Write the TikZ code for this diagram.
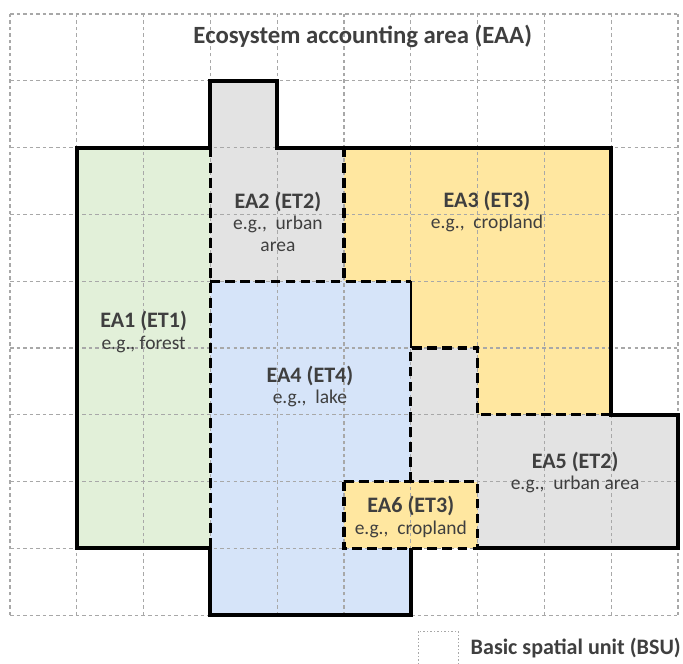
\documentclass[tikz,border=0pt]{standalone}
\usepackage{fontspec}
\setmainfont{Carlito}
\definecolor{txt}{HTML}{3F3F3F}
\definecolor{cgreen}{HTML}{E2F0D9}
\definecolor{cgray}{HTML}{E3E3E3}
\definecolor{cyellow}{HTML}{FFE7A0}
\definecolor{cblue}{HTML}{D6E4F9}
\definecolor{cgrid}{HTML}{A8A8A8}
\tikzset{
  gridline/.style={draw=cgrid, line width=0.5pt, dash pattern=on 1.5pt off 1.3pt},
  outerline/.style={draw=black, line width=1.75pt, line join=miter},
  innerline/.style={draw=black, line width=1.4pt, dash pattern=on 4.2pt off 2.2pt},
  eabox/.style={text=txt, align=center, inner sep=0pt, font=\fontsize{8.3pt}{9pt}\selectfont},
}
\newcommand{\eahead}[1]{{\fontsize{9.4pt}{9pt}\selectfont\bfseries #1}}
\begin{document}
\begin{tikzpicture}
\clip (-0.15,0.21) rectangle (10.075,-9.73);
\fill[white] (-0.15,0.21) rectangle (10.075,-9.73);
% fills
\fill[cgreen] (1,-2) rectangle (3,-8);
\fill[cgray] (3,-1) -- (4,-1) -- (4,-2) -- (5,-2) -- (5,-4) -- (3,-4) -- cycle;
\fill[cyellow] (5,-2) -- (9,-2) -- (9,-6) -- (7,-6) -- (7,-5) -- (6,-5) -- (6,-4) -- (5,-4) -- cycle;
\fill[cblue] (3,-4) -- (6,-4) -- (6,-7) -- (5,-7) -- (5,-8) -- (6,-8) -- (6,-9) -- (3,-9) -- cycle;
\fill[cgray] (6,-5) -- (7,-5) -- (7,-6) -- (10,-6) -- (10,-8) -- (7,-8) -- (7,-7) -- (6,-7) -- cycle;
\fill[cyellow] (5,-7) rectangle (7,-8);
% grid of basic spatial units
\draw[gridline] (0,0) grid (10,-9);
% internal boundaries
\draw[innerline] (3,-2) -- (3,-8);
\draw[innerline] (3,-4) -- (6,-4);
\draw[innerline] (5,-2) -- (5,-4);
\draw[innerline] (6,-7) -- (6,-5) -- (7,-5) -- (7,-6) -- (9,-6);
\draw[innerline] (5,-7) rectangle (7,-8);
\draw[black, line width=0.6pt] (6,-4) -- (6,-5);
% outer boundary
\draw[outerline] (6,-8) -- (6,-9) -- (3,-9) -- (3,-8) -- (1,-8) -- (1,-2) -- (3,-2) -- (3,-1) -- (4,-1) -- (4,-2) -- (9,-2) -- (9,-6) -- (10,-6) -- (10,-8) -- (7,-8);
% texts
\node[text=txt, font=\fontsize{10.55pt}{12pt}\selectfont\bfseries] (title) at (5.28,-0.33) {Ecosystem accounting area (EAA)};
\node[eabox] (ea1) at (2.0,-4.76) {\eahead{EA1 (ET1)}\\e.g., forest};
\node[eabox] (ea2) at (4.01,-3.11) {\eahead{EA2 (ET2)}\\e.g.,\ \ urban\\area};
\node[eabox] (ea3) at (7.14,-2.95) {\eahead{EA3 (ET3)}\\e.g.,\ \ cropland};
\node[eabox] (ea4) at (4.49,-5.58) {\eahead{EA4 (ET4)}\\e.g.,\ \ lake};
\node[eabox] (ea5) at (8.46,-6.86) {\eahead{EA5 (ET2)}\\e.g.,\ \ urban area};
\node[eabox] (ea6) at (6.0,-7.53) {\eahead{EA6 (ET3)}\\e.g.,\ \ cropland};
% legend
\draw[cgrid, line width=0.5pt, dash pattern=on 0.6pt off 0.9pt] (6.11,-9.24) rectangle (6.71,-9.90);
\node[text=txt, anchor=west, inner sep=0pt, font=\fontsize{9.4pt}{11pt}\selectfont\bfseries] (legend) at (6.89,-9.49) {Basic spatial unit (BSU)};
\end{tikzpicture}
\end{document}
